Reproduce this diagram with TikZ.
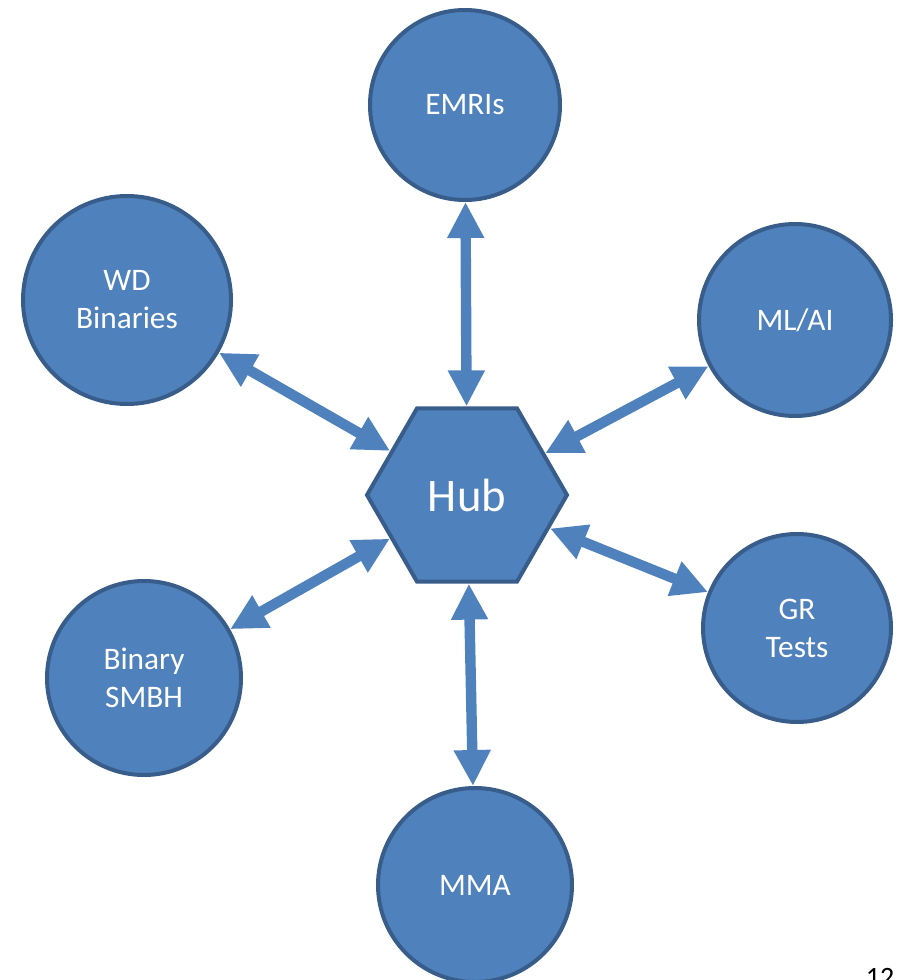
\documentclass[tikz,border=0pt]{standalone}
\usepackage{fontspec}
\setmainfont{Carlito}
\usetikzlibrary{arrows.meta,shapes.geometric}
\definecolor{fillblue}{HTML}{4F81BD}
\definecolor{edgeblue}{HTML}{385D8A}
\tikzset{
  topic/.style={circle, fill=fillblue, draw=edgeblue, line width=3pt, text=white,
    align=center, inner sep=0pt, font=\fontsize{23.5}{28.5}\selectfont},
  hubnode/.style={regular polygon, regular polygon sides=6, fill=fillblue, draw=edgeblue,
    line width=3pt, text=white, inner sep=0pt, minimum size=150pt,
    font=\fontsize{35}{38}\selectfont},
  link/.style={draw=fillblue, line width=7.8pt,
    {Triangle[length=27pt,width=26pt]}-{Triangle[length=27pt,width=26pt]}}
}
\begin{document}
\begin{tikzpicture}[x=0.75pt,y=-0.75pt]
\useasboundingbox (0,0) rectangle (900,980);
\node[hubnode] (hub) at (467,495) {Hub};
\node[topic, minimum size=142.5pt] (emri) at (465,105) {EMRIs};
\node[topic, minimum size=156pt] (wd) at (127,300) {WD\\Binaries};
\node[topic, minimum size=144pt] (ml) at (795,320) {ML/AI};
\node[topic, minimum size=145.5pt] (smbh) at (144,678) {Binary\\SMBH};
\node[topic, minimum size=141pt] (gr) at (797,628) {GR\\Tests};
\node[topic, minimum size=145.5pt] (mma) at (475,885) {MMA};
\draw[link] (emri) -- (hub);
\draw[link] (wd) -- (hub);
\draw[link] (ml) -- (hub);
\draw[link] (smbh) -- (hub);
\draw[link] (gr) -- (hub);
\draw[link] (mma) -- (hub);
\node[anchor=north, inner sep=0pt, font=\fontsize{21}{24}\selectfont] (pg) at (880,968) {12};
\end{tikzpicture}
\end{document}
